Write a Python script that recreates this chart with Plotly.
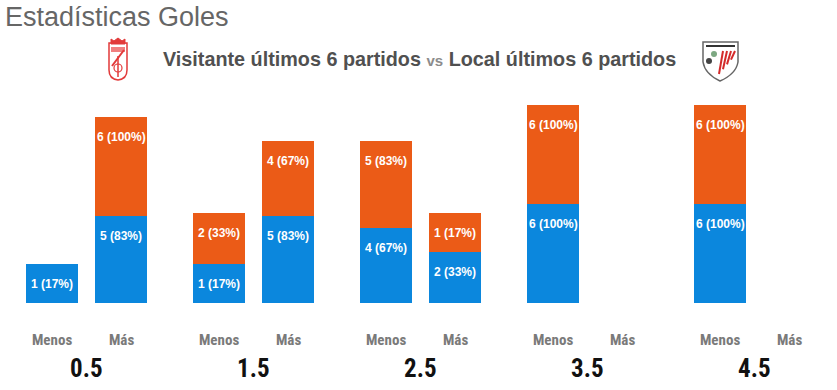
import plotly.graph_objects as go

# ---------------- data ----------------
groups = ["0.5", "1.5", "2.5", "3.5", "4.5"]
bar_labels = ["Menos", "Más"]
matches = 6
visitante_menos = [1, 1, 4, 6, 6]
visitante_mas = [5, 5, 2, 0, 0]
local_menos = [0, 2, 5, 6, 6]
local_mas = [6, 4, 1, 0, 0]

title_text = "Estadísticas Goles"
sub_left = "Visitante últimos 6 partidos"
sub_mid = "vs"
sub_right = "Local últimos 6 partidos"

# ---------------- layout constants ----------------
W, H = 837, 390
PLOT_TOP, PLOT_BOTTOM = 95, 303
UNIT_PX = 12.0          # pixels per goal count
BASE = 2.25             # minimum visible segment height (in units)
GROUP_PX = 167.0
FIRST_PX = 52.0
MAS_OFF = 69.0 / GROUP_PX
BAR_W = 52.0 / GROUP_PX

BLUE = "#0B87DD"
ORANGE = "#EB5B17"
NARROW = "Liberation Sans Narrow, Roboto Condensed, DejaVu Sans Condensed, Liberation Sans, sans-serif"
SANS = "Liberation Sans, Arial, sans-serif"


def px_x(p):
    return p / W


def px_y(p):
    return (PLOT_BOTTOM - p) / (PLOT_BOTTOM - PLOT_TOP)


def seg(v):
    return v + BASE if v > 0 else 0


xs, vis_vals, loc_vals = [], [], []
for i in range(len(groups)):
    xs += [i, i + MAS_OFF]
    vis_vals += [visitante_menos[i], visitante_mas[i]]
    loc_vals += [local_menos[i], local_mas[i]]

vis_h = [seg(v) for v in vis_vals]
loc_h = [seg(v) for v in loc_vals]

fig = go.Figure()
fig.add_trace(go.Bar(x=xs, y=vis_h, width=BAR_W, marker=dict(color=BLUE, line=dict(width=0)),
                     name="Visitante", hoverinfo="skip"))
fig.add_trace(go.Bar(x=xs, y=loc_h, width=BAR_W, marker=dict(color=ORANGE, line=dict(width=0)),
                     name="Local", hoverinfo="skip"))

ann = []
label_font = dict(family=SANS, size=12, color="white")
for x, v, hv, lv, hl in zip(xs, vis_vals, vis_h, loc_vals, loc_h):
    if v > 0:
        ann.append(dict(x=x, y=hv, xref="x", yref="y", yshift=-20, showarrow=False, yanchor="middle",
                        text="<b>%d (%d%%)</b>" % (v, round(100 * v / matches)), font=label_font))
    if lv > 0:
        ann.append(dict(x=x, y=hv + hl, xref="x", yref="y", yshift=-20, showarrow=False, yanchor="middle",
                        text="<b>%d (%d%%)</b>" % (lv, round(100 * lv / matches)), font=label_font))

for i, g in enumerate(groups):
    ann.append(dict(x=i, y=px_y(340), xref="x", yref="paper", showarrow=False, yanchor="middle",
                    xanchor="center",
                    text="<b>%s</b>" % bar_labels[0], font=dict(family=NARROW, size=15, color="#7a7a7a")))
    ann.append(dict(x=i + MAS_OFF, y=px_y(340), xref="x", yref="paper", showarrow=False, yanchor="middle",
                    xanchor="center",
                    text="<b>%s</b>" % bar_labels[1], font=dict(family=NARROW, size=15, color="#7a7a7a")))
    ann.append(dict(x=i + MAS_OFF / 2, y=px_y(368), xref="x", yref="paper", showarrow=False,
                    yanchor="middle", xanchor="center",
                    text="<b>%s</b>" % g, font=dict(family=NARROW, size=25, color="#111111")))

ann.append(dict(x=px_x(3), y=px_y(17), xref="paper", yref="paper", xanchor="left", yanchor="middle",
                showarrow=False, text=title_text, font=dict(family=SANS, size=27, color="#666666")))
ann.append(dict(x=px_x(419.5), y=px_y(59), xref="paper", yref="paper", xanchor="center", yanchor="middle",
                showarrow=False,
                text="<b>%s</b> <span style='color:#8c8c8c;font-size:15px'><b>%s</b></span> <b>%s</b>"
                     % (sub_left, sub_mid, sub_right),
                font=dict(family=SANS, size=19.8, color="#505050")))


def path(cmds):
    out = []
    for c in cmds:
        if isinstance(c, str):
            out.append(c)
        else:
            out.append("%.5f,%.5f" % (px_x(c[0]), px_y(c[1])))
    return " ".join(out)


shapes = []
# Granada crest (simplified)
shapes.append(dict(type="path", xref="paper", yref="paper",
                   path=path(["M", (109, 43), "L", (127, 43), "L", (127, 70), "Q", (127, 79), (118, 80),
                              "Q", (109, 79), (109, 70), "Z"]),
                   fillcolor="white", line=dict(color="#e23a3a", width=1.5)))
shapes.append(dict(type="path", xref="paper", yref="paper",
                   path=path(["M", (111, 44), "L", (111, 39), "L", (114, 41), "L", (118, 38), "L", (122, 41),
                              "L", (125, 39), "L", (125, 44), "Z"]),
                   fillcolor="#e23a3a", line=dict(color="#e23a3a", width=1)))
shapes.append(dict(type="path", xref="paper", yref="paper",
                   path=path(["M", (111, 47), "L", (125, 47), "L", (125, 52), "L", (111, 52), "Z"]),
                   fillcolor="#f08080", line=dict(width=0)))
shapes.append(dict(type="line", xref="paper", yref="paper", x0=px_x(112), y0=px_y(66), x1=px_x(124), y1=px_y(50),
                   line=dict(color="#e23a3a", width=2)))
shapes.append(dict(type="line", xref="paper", yref="paper", x0=px_x(118), y0=px_y(56), x1=px_x(118), y1=px_y(77),
                   line=dict(color="#e23a3a", width=1.5)))
shapes.append(dict(type="circle", xref="paper", yref="paper", x0=px_x(114), y0=px_y(72), x1=px_x(122), y1=px_y(64),
                   line=dict(color="#e23a3a", width=1.2)))

# Athletic crest (simplified)
shapes.append(dict(type="path", xref="paper", yref="paper",
                   path=path(["M", (703, 42), "L", (738, 42), "L", (738, 62), "Q", (736, 74), (720, 81),
                              "Q", (705, 74), (703, 62), "Z"]),
                   fillcolor="white", line=dict(color="#666666", width=1.5)))
shapes.append(dict(type="line", xref="paper", yref="paper", x0=px_x(706), y0=px_y(46), x1=px_x(735), y1=px_y(46),
                   line=dict(color="#333333", width=2)))
for sx in [723, 727, 731, 735]:
    shapes.append(dict(type="line", xref="paper", yref="paper", x0=px_x(sx - 4), y0=px_y(74 - (sx - 723) * 1.2),
                       x1=px_x(sx), y1=px_y(51), line=dict(color="#d42a2a", width=2)))
shapes.append(dict(type="circle", xref="paper", yref="paper", x0=px_x(711), y0=px_y(57), x1=px_x(717), y1=px_y(51),
                   fillcolor="#7da882", line=dict(width=0)))
shapes.append(dict(type="circle", xref="paper", yref="paper", x0=px_x(706), y0=px_y(64), x1=px_x(712), y1=px_y(58),
                   fillcolor="#444444", line=dict(width=0)))

fig.update_layout(
    width=W, height=H,
    margin=dict(l=0, r=0, t=PLOT_TOP, b=H - PLOT_BOTTOM, pad=0),
    paper_bgcolor="white", plot_bgcolor="white",
    barmode="stack", bargap=0, showlegend=False,
    xaxis=dict(range=[-FIRST_PX / GROUP_PX, (W - FIRST_PX) / GROUP_PX], visible=False, fixedrange=True),
    yaxis=dict(range=[0, (PLOT_BOTTOM - PLOT_TOP) / UNIT_PX], visible=False, fixedrange=True),
    annotations=ann, shapes=shapes,
)

fig.write_html("out.html", config={"displayModeBar": False},
               post_script="document.body.style.margin='0';")
